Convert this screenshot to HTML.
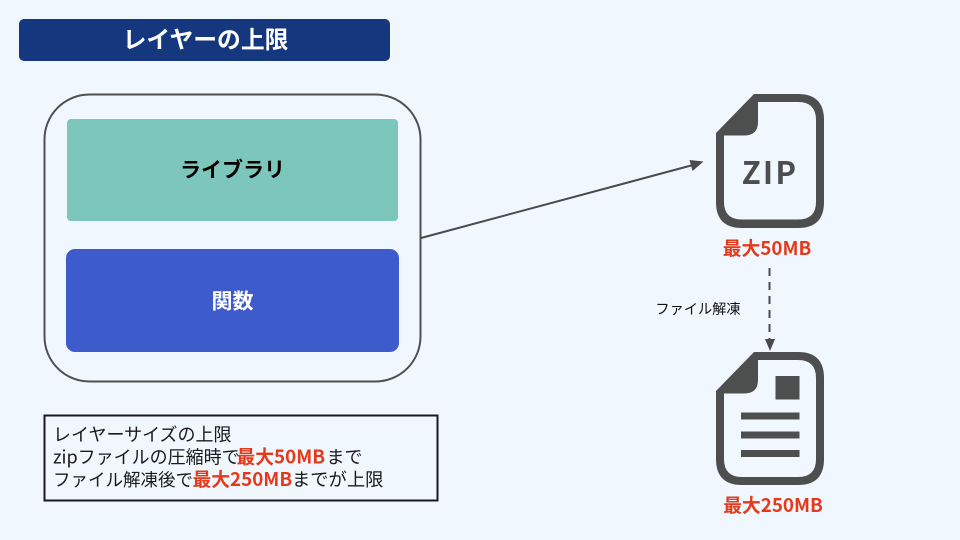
<!DOCTYPE html>
<html lang="ja"><head><meta charset="utf-8"><style>
html,body{margin:0;padding:0;background:#f0f7fe}
svg{display:block}
text{font-family:"Noto Sans CJK JP","Liberation Sans",sans-serif}
</style></head><body>
<svg width="960" height="540" viewBox="0 0 960 540" xmlns="http://www.w3.org/2000/svg">
<rect width="960" height="540" fill="#f0f7fe"/>
<rect x="19" y="19" width="371" height="42" rx="5" fill="#15377e"/>
<text x="205.500" y="48" text-anchor="middle" font-size="23.800" font-weight="700" fill="#fff">レイヤーの上限</text>
<rect x="44.500" y="94.500" width="376" height="287" rx="45" fill="none" stroke="#4f4f4f" stroke-width="2"/>
<rect x="67" y="119" width="331" height="102" rx="4" fill="#7dc6bc"/>
<text x="232.500" y="177" text-anchor="middle" font-size="21" font-weight="700" fill="#000">ライブラリ</text>
<rect x="66" y="249" width="333" height="103" rx="9" fill="#3d5bcb"/>
<text x="232.500" y="308.500" text-anchor="middle" font-size="21" font-weight="700" fill="#fff">関数</text>
<line x1="421" y1="238" x2="693" y2="165" stroke="#4a4a4a" stroke-width="2"/>
<polygon points="703.500,161.500 689.500,160 692.500,171" fill="#4a4a4a"/>
<line x1="769.500" y1="268" x2="769.500" y2="340" stroke="#4a4a4a" stroke-width="2" stroke-dasharray="8 6"/>
<polygon points="770,351 765,339 775,339" fill="#4a4a4a"/>
<text x="698" y="314" text-anchor="middle" font-size="14.200" fill="#111">ファイル解凍</text>
<path fill-rule="evenodd" fill="#4d4f4f" d="M754 94H798Q824 94 824 120V202Q824 228 798 228H742Q716 228 716 202V133ZM758 102V122Q758 135.500 744 135.500H724V202Q724 219.500 742 219.500H798Q816 219.500 816 202V120Q816 102 798 102Z"/>
<text x="770" y="184" text-anchor="middle" font-size="31" font-weight="700" fill="#4d4f4f" letter-spacing="2.200">ZIP</text>
<text x="767" y="255" text-anchor="middle" font-size="18.800" font-weight="700" fill="#e5391b">最大50MB</text>
<path fill-rule="evenodd" fill="#4d4f4f" d="M754 352H798Q824 352 824 378V459Q824 485 798 485H742Q716 485 716 459V391ZM758 360V380Q758 393.500 744 393.500H724V459Q724 477 742 477H798Q816 477 816 459V378Q816 360 798 360Z"/>
<rect x="775.500" y="376" width="24" height="23.500" fill="#4d4f4f"/>
<rect x="741" y="412.500" width="58.500" height="7" fill="#4d4f4f"/>
<rect x="741" y="431.500" width="58.500" height="7" fill="#4d4f4f"/>
<rect x="741" y="450" width="58.500" height="7" fill="#4d4f4f"/>
<text x="773" y="512" text-anchor="middle" font-size="18.800" font-weight="700" fill="#e5391b">最大250MB</text>
<rect x="44.500" y="415.500" width="393" height="85" fill="none" stroke="#1a1a1a" stroke-width="2"/>
<g font-size="18" fill="#1a1a1a">
<text x="53" y="441">レイヤーサイズの上限</text>
<text x="53" y="463.500">zipファイルの圧縮時で<tspan x="236.500" fill="#e5391b" font-weight="700" font-size="18.800">最大50MB</tspan><tspan x="326.500">まで</tspan></text>
<text x="53" y="486" font-size="17.500">ファイル解凍後で<tspan x="192.500" fill="#e5391b" font-weight="700" font-size="18.800">最大250MB</tspan><tspan x="292" font-size="18.300">までが上限</tspan></text>
</g>
</svg>
</body></html>
